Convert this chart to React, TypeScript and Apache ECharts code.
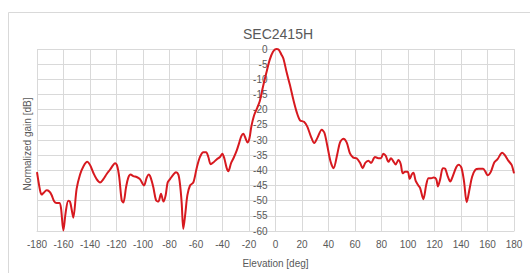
import React, { useEffect, useRef } from "react";
import * as echarts from "echarts";

const title = "SEC2415H";
const xName = "Elevation [deg]";
const yName = "Normalized gain [dB]";

const elevation = [
  -180, -177.7, -176.5, -175.2, -172.7, -170.7, -168.9, -167.2, -165.2, -163.1, -161.9, -160.1, -158.4, -156.4,
  -155.1, -153.8, -152.6, -150.1, -147.5, -145, -142, -140, -137.5, -135, -132.4, -129.9, -127.4, -124.9, -122.4,
  -121.1, -119.4, -117.9, -116.1, -114.8, -112.8, -111.1, -109.3, -107.3, -104.8, -102.3, -100.2, -99.2, -97.2,
  -95.7, -94.2, -92.2, -90.2, -88.4, -86.4, -84.6, -82.9, -81.4, -79.6, -77.1, -75.1, -73.3, -72.1, -70.8, -69.6,
  -68, -66.5, -64.5, -62, -59.5, -57, -54.4, -52.4, -50.7, -48.9, -46.9, -44.4, -41.9, -40.1, -38.6, -36.8, -35.6,
  -33.6, -31.8, -29.3, -27.3, -25.8, -24.3, -22.3, -21.2, -19.7, -18.2, -16.2, -14.2, -11.9, -9.5, -7, -4.4, -1.9,
  0.6, 2.4, 4.4, 6, 8.4, 10.9, 13.4, 16, 18.5, 21.5, 24, 26.6, 29.3, 31.6, 34.9, 36.9, 39.1, 41.6, 43.8, 46.7, 48.7,
  51.2, 53.7, 56.2, 58.7, 61.2, 63.8, 65.8, 67.8, 70.1, 72.1, 75.1, 77.6, 79.6, 81.4, 83.2, 85.2, 87.2, 89.2, 90.7,
  92.7, 94.5, 96, 97.8, 99.8, 101.3, 102.8, 104.1, 105.8, 107.8, 109.1, 111.6, 113.8, 115.5, 117.5, 119.3, 121.3,
  122.6, 124.3, 126.3, 128.1, 130.1, 131.9, 133.9, 136.5, 138.2, 140.3, 142.3, 144.3, 146.6, 148.4, 150.9, 153.4,
  156.7, 158.5, 160, 162.5, 165.1, 167.6, 171.1, 173.1, 175.7, 178.2, 180,
];

const gain = [
  -40.6, -46.6, -48, -47.5, -46.6, -47, -48.2, -50.1, -50.8, -50.8, -52.4, -59.8, -54, -50,
  -50.3, -53, -55.6, -46.1, -41.4, -38.7, -37.2, -38.2, -40.8, -42.9, -44, -42.9, -41.2, -39.8, -38.2,
  -37.7, -38.7, -42.4, -49.8, -50.6, -45.6, -42.4, -41.4, -41.9, -42.2, -42.9, -44.5, -45, -42.4,
  -41.4, -42.4, -45.6, -49.8, -50.3, -47.7, -50.3, -48.2, -44, -42.9, -41.4, -40.6, -41.4, -44.5, -50.8, -59.3,
  -54, -48.2, -45, -44, -39.3, -35.6, -34, -34, -35.6, -38, -37.4, -36.4, -35.6, -34.5, -36.1, -39.3, -40.3,
  -37.7, -36.1, -33.5, -30.8, -28.7, -27.9, -29.8, -30.8, -29.5, -25.5, -21.9, -19.8, -17.2, -12.5, -8, -3.6, -0.9,
  0, -0.2, -1.8, -3.2, -7.7, -11.9, -16.6, -20.8, -23.5, -24, -25.6, -28.7, -31, -29.3, -26.6, -27.6, -31.9, -37.2, -39.3, -34.5, -30.8,
  -29.6, -30.8, -34.4, -35.8, -36, -37.5, -39.3, -37.5, -36.8, -37.6, -35.6, -36, -36, -34.5, -35.2, -37.2, -36, -37.2, -38.1,
  -36.6, -37.9, -41, -40.5, -40.5, -42.8, -41.4, -40.8, -43.5, -45, -45.8, -49.5, -44.7, -42.6, -42.6, -42.4, -42.9,
  -45.3, -42.9, -39.3, -39.5, -42.1, -43.7, -41.8, -38.9, -38.2, -39.1, -43.7, -50.5, -45.8, -42.1, -39.8, -39.5,
  -39.5, -40.5, -41.6, -40.5, -37.4, -36.3, -34.2, -35, -36.8, -38.2, -41,
];

const textColor = "#595959";
const gridColor = "#d9d9d9";
const font = "'Liberation Sans', Arial, sans-serif";

export default function App() {
  const ref = useRef<HTMLDivElement>(null);
  useEffect(() => {
    if (!ref.current) return;
    const chart = echarts.init(ref.current, undefined, { renderer: "svg" });
    chart.setOption({
      animation: false,
      backgroundColor: "#ffffff",
      title: {
        text: title,
        left: 273,
        top: 22,
        textAlign: "center",
        textStyle: { color: textColor, fontSize: 14, fontWeight: "normal", fontFamily: font },
      },
      grid: { left: 37, right: 16, top: 49, bottom: 34, containLabel: false },
      xAxis: {
        type: "value",
        min: -180,
        max: 180,
        interval: 20,
        name: xName,
        nameLocation: "middle",
        nameGap: 27,
        nameTextStyle: { color: textColor, fontSize: 10, fontFamily: font },
        axisLine: { onZero: false, lineStyle: { color: gridColor } },
        axisTick: { show: false },
        axisLabel: { color: textColor, fontSize: 10, fontFamily: font, margin: 8 },
        splitLine: { show: true, lineStyle: { color: gridColor, width: 1 } },
      },
      yAxis: {
        type: "value",
        min: -60,
        max: 0,
        interval: 5,
        position: "left",
        offset: -238.5,
        axisLine: { show: true, onZero: false, lineStyle: { color: gridColor } },
        axisTick: { show: false },
        axisLabel: { color: textColor, fontSize: 10, fontFamily: font, margin: 8 },
        splitLine: { show: true, lineStyle: { color: gridColor, width: 1 } },
      },
      graphic: [
        {
          type: "rect",
          shape: { x: 8.5, y: 12.5, width: 540, height: 300 },
          style: { fill: "none", stroke: gridColor, lineWidth: 1 },
          silent: true,
        },
        {
          type: "text",
          x: 27,
          y: 144,
          rotation: Math.PI / 2,
          style: {
            text: yName,
            fill: textColor,
            fontSize: 10,
            fontFamily: font,
            textAlign: "center",
            textVerticalAlign: "middle",
          },
        },
      ],
      series: [
        {
          type: "line",
          data: elevation.map((e, i) => [e, gain[i]]),
          showSymbol: false,
          smooth: 0.3,
          lineStyle: { color: "#d7191f", width: 2 },
          itemStyle: { color: "#d7191f" },
        },
      ],
    });
    return () => chart.dispose();
  }, []);
  return (
    <div
      ref={ref}
      style={{ position: "fixed", left: 0, top: 0, width: 530, height: 273 }}
    />
  );
}
